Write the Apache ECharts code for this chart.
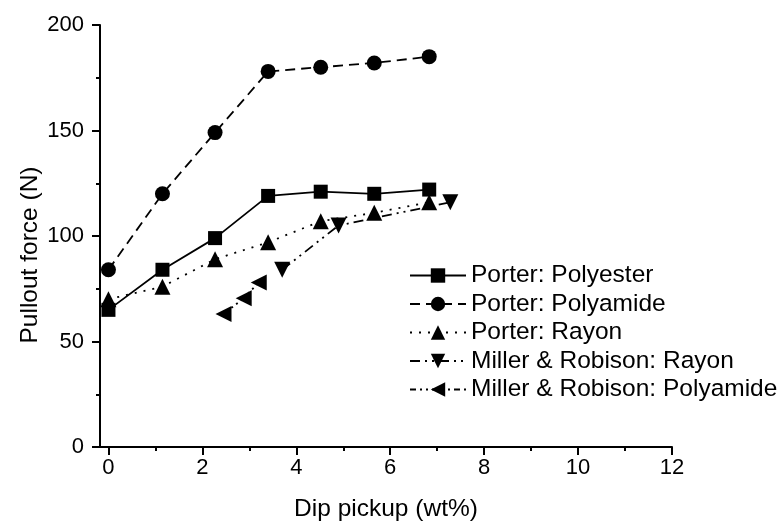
<!DOCTYPE html>
<html>
<head>
<meta charset="utf-8">
<script src="https://cdn.jsdelivr.net/npm/echarts@6/dist/echarts.min.js"></script>
<style>
  html, body { margin: 0; padding: 0; background: #fff; }
  #main { width: 781px; height: 523px; }
</style>
</head>
<body>
<div id="main"></div>
<script>
// Porter data share the same dip pickup values
const porterX = [0, 1.15, 2.27, 3.4, 4.52, 5.66, 6.83]
const porterPolyester = [65, 84, 99, 119, 121, 120, 122]
const porterPolyamide = [84, 120, 149, 178, 180, 182, 185]
const porterRayon = [70, 76, 89, 97, 107, 111, 116]

const millerRayonX = [3.7, 4.9, 7.28]
const millerRayonY = [84, 105, 116]
const millerPolyamideX = [2.45, 2.88, 3.2]
const millerPolyamideY = [63, 70.5, 78]

const xMajorTicks = [0, 2, 4, 6, 8, 10, 12]
const xMinorTicks = [1, 3, 5, 7, 9, 11]

const names = [
  "Porter: Polyester",
  "Porter: Polyamide",
  "Porter: Rayon",
  "Miller & Robison: Rayon",
  "Miller & Robison: Polyamide"
]

function pairs (xs, ys) {
  return xs.map((x, i) => [x, ys[i]])
}

const font = "Liberation Sans"
let myChart = echarts.init(document.getElementById("main"))

function lineSeries (name, data, symbol, size, rotate, dash) {
  return {
    name: name,
    type: "line",
    data: data,
    symbol: symbol,
    symbolSize: size,
    symbolRotate: rotate,
    itemStyle: { color: "#000" },
    lineStyle: { color: "#000", width: 1.8, type: dash },
    emphasis: { disabled: true },
    animation: false
  }
}

let option = {
  backgroundColor: "#fff",
  grid: { left: 100, top: 25, right: 109, bottom: 76, containLabel: false, outerBoundsMode: "none" },
  legend: {
    orient: "vertical",
    left: 404,
    top: 258,
    itemWidth: 56,
    itemHeight: 18,
    itemGap: 3.5,
    textStyle: { fontFamily: font, fontSize: 24.5, color: "#000" },
    data: names
  },
  xAxis: [
    {
      type: "value",
      min: -0.18,
      max: 12,
      name: "Dip pickup (wt%)",
      nameLocation: "middle",
      nameGap: 50,
      nameMoveOverlap: false,
      nameTextStyle: { fontFamily: font, fontSize: 24.5, color: "#000" },
      axisLine: { onZero: false, lineStyle: { color: "#000", width: 2 } },
      axisTick: { customValues: xMajorTicks, length: 8, lineStyle: { color: "#000", width: 2 } },
      axisLabel: { customValues: xMajorTicks, margin: 10, fontFamily: font, fontSize: 22, color: "#000" },
      splitLine: { show: false }
    },
    {
      type: "value",
      min: -0.18,
      max: 12,
      position: "bottom",
      axisLine: { show: false },
      axisTick: { customValues: xMinorTicks, length: 4, lineStyle: { color: "#000", width: 2 } },
      axisLabel: { show: false },
      splitLine: { show: false }
    }
  ],
  yAxis: {
    type: "value",
    min: 0,
    max: 200,
    interval: 50,
    name: "Pullout force (N)",
    nameLocation: "middle",
    nameGap: 57,
    nameMoveOverlap: false,
    nameTextStyle: { fontFamily: font, fontSize: 24.5, color: "#000", padding: [0, 38, 0, 0] },
    axisLine: { show: true, onZero: false, lineStyle: { color: "#000", width: 2 } },
    axisTick: { length: 8, lineStyle: { color: "#000", width: 2 } },
    minorTick: { show: true, splitNumber: 2, length: 4, lineStyle: { color: "#000", width: 2 } },
    axisLabel: { margin: 16, fontFamily: font, fontSize: 22, color: "#000" },
    splitLine: { show: false }
  },
  series: [
    lineSeries(names[0], pairs(porterX, porterPolyester), "rect", 14, 0, "solid"),
    lineSeries(names[1], pairs(porterX, porterPolyamide), "circle", 15, 0, [10, 6]),
    lineSeries(names[2], pairs(porterX, porterRayon), "triangle", 16, 0, [2, 7]),
    lineSeries(names[3], pairs(millerRayonX, millerRayonY), "triangle", 16, 180, [10, 5, 2, 5, 2, 5]),
    lineSeries(names[4], pairs(millerPolyamideX, millerPolyamideY), "triangle", 16, 90, [6, 4, 2, 4, 2, 4])
  ]
}

option && myChart.setOption(option)
</script>
</body>
</html>
